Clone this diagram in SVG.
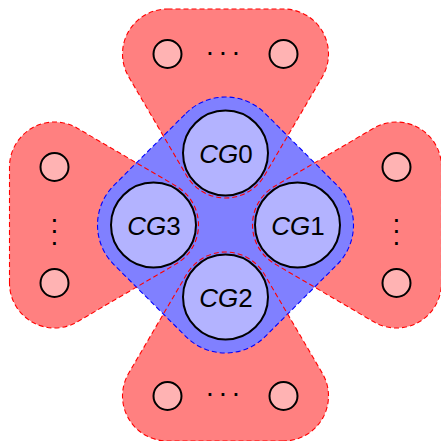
<svg xmlns="http://www.w3.org/2000/svg" width="441" height="441" viewBox="0 0 441 441">
<style>
.rf{fill:#ff8080;stroke:none}
.rs{fill:none;stroke:#ff0000;stroke-width:1.1;stroke-dasharray:5 3}
.bf{fill:#8080ff;stroke:#0000ff;stroke-width:1.1;stroke-dasharray:5 3}
.cg{fill:#b3b3ff;stroke:#000;stroke-width:2}
.sm{fill:#ffb3b3;stroke:#000;stroke-width:2}
.lb{font-family:"Liberation Sans",Arial,sans-serif;font-size:26px;fill:#000;text-anchor:middle}
.dt{font-family:"Liberation Sans",Arial,sans-serif;font-size:28px;fill:#000;text-anchor:middle}
</style>
<defs>
<path id="hull" d="M167.5,9 L283.5,9 A45,45 0 0 1 322.33,76.75 L264.33,175.75 A45,45 0 0 1 186.67,175.75 L128.67,76.75 A45,45 0 0 1 167.5,9 Z"/>
</defs>
<g id="groups-fill">
<use href="#hull" class="rf"/>
<use href="#hull" class="rf" transform="rotate(90 225.5 225)"/>
<use href="#hull" class="rf" transform="rotate(180 225.5 225)"/>
<use href="#hull" class="rf" transform="rotate(270 225.5 225)"/>
</g>
<g id="center-group">
<path class="bf" d="M185.9,113.4 A56,56 0 0 1 265.1,113.4 L337.1,185.4 A56,56 0 0 1 337.1,264.6 L265.1,336.6 A56,56 0 0 1 185.9,336.6 L113.9,264.6 A56,56 0 0 1 113.9,185.4 Z"/>
</g>
<g id="groups-stroke">
<use href="#hull" class="rs"/>
<use href="#hull" class="rs" transform="rotate(90 225.5 225)"/>
<use href="#hull" class="rs" transform="rotate(180 225.5 225)"/>
<use href="#hull" class="rs" transform="rotate(270 225.5 225)"/>
</g>
<g id="CG0"><circle class="cg" cx="225.5" cy="153" r="42.5"/><text class="lb" x="226" y="162.5"><tspan font-style="italic">CG</tspan>0</text></g>
<g id="CG1"><circle class="cg" cx="297.5" cy="225" r="42.5"/><text class="lb" x="298" y="234.5"><tspan font-style="italic">CG</tspan>1</text></g>
<g id="CG2"><circle class="cg" cx="225.5" cy="297" r="42.5"/><text class="lb" x="226" y="306.5"><tspan font-style="italic">CG</tspan>2</text></g>
<g id="CG3"><circle class="cg" cx="153.5" cy="225" r="42.5"/><text class="lb" x="154" y="234.5"><tspan font-style="italic">CG</tspan>3</text></g>
<g id="top-nodes"><circle class="sm" cx="167.5" cy="54" r="14"/><circle class="sm" cx="283.5" cy="54" r="14"/><text class="dt" x="210 223 236" y="55">...</text></g>
<g id="bottom-nodes"><circle class="sm" cx="167.5" cy="396" r="14"/><circle class="sm" cx="283.5" cy="396" r="14"/><text class="dt" x="210 223 236" y="396">...</text></g>
<g id="left-nodes"><circle class="sm" cx="54.5" cy="167" r="14"/><circle class="sm" cx="54.5" cy="283" r="14"/><text class="dt" x="54.5 54.5 54.5" y="221.5 233 244.5">...</text></g>
<g id="right-nodes"><circle class="sm" cx="396.5" cy="167" r="14"/><circle class="sm" cx="396.5" cy="283" r="14"/><text class="dt" x="396.5 396.5 396.5" y="221.5 233 244.5">...</text></g>
</svg>
